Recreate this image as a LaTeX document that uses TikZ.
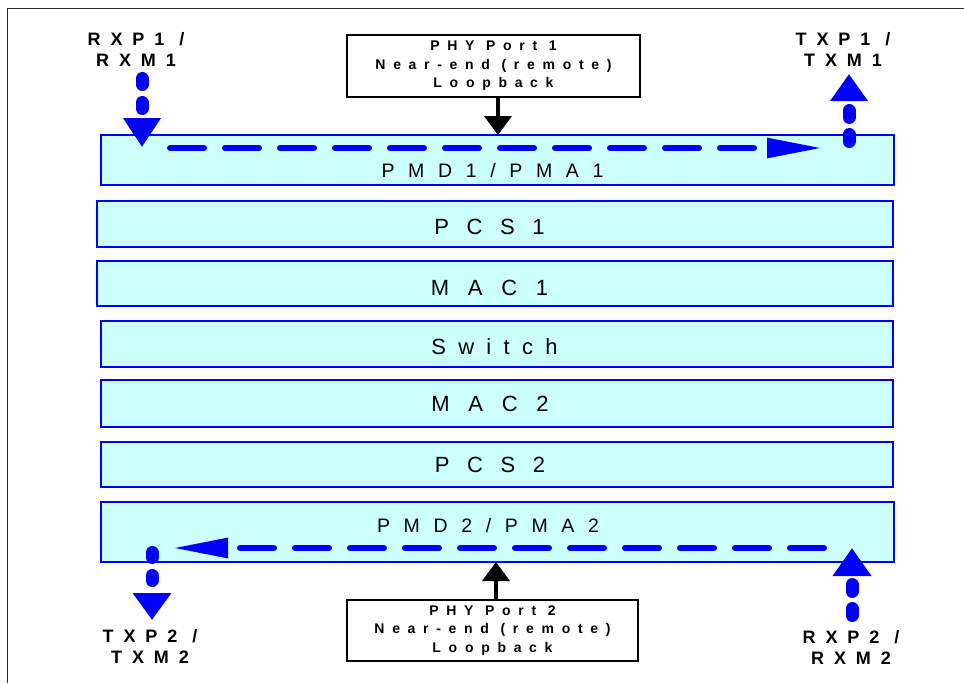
\documentclass[tikz,border=0pt]{standalone}
\usepackage{fontspec}
\setmainfont{Liberation Sans}
\usetikzlibrary{arrows.meta}
\definecolor{laycyan}{RGB}{204,255,255}
\definecolor{layblue}{RGB}{0,0,255}
\newcommand\spc[3]{{\fontsize{#1}{#1}\selectfont\addfontfeature{LetterSpace=#2}#3}}
\begin{document}
\begin{tikzpicture}[x=1pt,y=-1pt,
  layer/.style={draw=layblue, fill=laycyan, line width=1.6pt, outer sep=0pt, inner sep=0pt, anchor=north west},
  laytxt/.style={anchor=base, inner sep=0pt, text=black},
  phybox/.style={draw=black, line width=2.7pt, fill=white, align=center, inner sep=0pt,
    font=\bfseries\fontsize{14}{18.5}\selectfont\addfontfeature{LetterSpace=55}},
  portlbl/.style={align=center, inner sep=0pt,
    font=\bfseries\fontsize{18}{21}\selectfont\addfontfeature{LetterSpace=55}},
  blkarrow/.style={draw=black, line width=4pt, -{Triangle[width=27pt,length=19pt]}},
  hflow/.style={draw=layblue, line width=6pt, line cap=round, dash pattern=on 34pt off 21pt,
    -{Triangle[width=19pt,length=55pt]}},
  vflow/.style={draw=layblue, line width=13pt, line cap=round},
  frameline/.style={draw=black!85, line width=1.6pt}
]
\useasboundingbox (0,0) rectangle (964,683);
% frame
\draw[frameline] (7.5,683) -- (7.5,8.3) -- (964,8.3);
% layers
\node[layer, minimum width=793, minimum height=50] (pmd1) at (101,135) {};
\node[layer, minimum width=796, minimum height=46] (pcs1) at (97,201) {};
\node[layer, minimum width=796, minimum height=45] (mac1) at (97,261) {};
\node[layer, minimum width=792, minimum height=46] (sw)   at (101,321) {};
\node[layer, minimum width=792, minimum height=47] (mac2) at (101,380) {};
\node[layer, minimum width=792, minimum height=45] (pcs2) at (101,442) {};
\node[layer, minimum width=793, minimum height=60] (pmd2) at (101,502) {};
\foreach \n in {pmd1,pcs1,mac1,sw,mac2,pcs2,pmd2}{
  \draw[layblue, line width=2.8pt] (\n.north west) -- (\n.south west);
  \draw[layblue, line width=2.8pt] (\n.north east) -- (\n.south east);
}
% layer labels
\node[laytxt] (pmd1t) at (492.5,177) {\spc{19.5}{70}{PMD1/PMA1}};
\node[laytxt] (pcs1t) at (489.5,234) {\spc{22}{80}{PCS1}};
\node[laytxt] (mac1t) at (489.5,295) {\spc{22}{85}{MAC1}};
\node[laytxt] (swt)   at (494.5,354) {\spc{22}{56}{Switch}};
\node[laytxt] (mac2t) at (490,411)   {\spc{22}{85}{MAC2}};
\node[laytxt] (pcs2t) at (490,472)   {\spc{22}{80}{PCS2}};
\node[laytxt] (pmd2t) at (488,532)   {\spc{19.5}{70}{PMD2/PMA2}};
% PHY boxes
\node[phybox, minimum width=293, minimum height=62] (phy1) at (493.5,66) {PHY Port 1\\Near-end (remote)\\Loopback};
\node[phybox, minimum width=291, minimum height=61] (phy2) at (492.5,630.5) {PHY Port 2\\Near-end (remote)\\Loopback};
\draw[blkarrow] ([xshift=4.5pt]phy1.south) -- ([xshift=4.5pt]phy1.south |- pmd1.north);
\draw[blkarrow] ([xshift=3.5pt]phy2.north) -- ([xshift=3.5pt]phy2.north |- pmd2.south);
% port labels
\node[portlbl] (rx1lbl) at (136,49)    {RXP1 /\\RXM1};
\node[portlbl] (tx1lbl) at (843,49)    {TXP1 /\\TXM1};
\node[portlbl] (tx2lbl) at (150,646.5) {TXP2 /\\TXM2};
\node[portlbl] (rx2lbl) at (851,647)   {RXP2 /\\RXM2};
% flow coordinates
\coordinate (rx1s) at (142,78.5);  \coordinate (rx1e) at (142,147);
\coordinate (tx1s) at (849,141.5); \coordinate (tx1e) at (849,74);
\coordinate (tx2s) at (152,552.5); \coordinate (tx2e) at (152,620);
\coordinate (rx2s) at (852,615.5); \coordinate (rx2e) at (852,548);
\coordinate (h1s) at (170,148); \coordinate (h1e) at (822,148);
\coordinate (h2s) at (824,548); \coordinate (h2e) at (173,548);
% flows
\draw[vflow, dash pattern=on 6pt off 18pt, -{Triangle[width=36pt,length=29pt]}] (rx1s) -- (rx1e);
\draw[vflow, dash pattern=on 7pt off 17pt, -{Triangle[width=36pt,length=27pt]}] (tx1s) -- (tx1e);
\draw[vflow, dash pattern=on 5pt off 18pt, -{Triangle[width=37pt,length=27pt]}] (tx2s) -- (tx2e);
\draw[vflow, dash pattern=on 7pt off 17pt, -{Triangle[width=37pt,length=28pt]}] (rx2s) -- (rx2e);
\draw[hflow] (h1s) -- (h1e);
\draw[hflow] (h2s) -- (h2e);
\end{tikzpicture}
\end{document}
